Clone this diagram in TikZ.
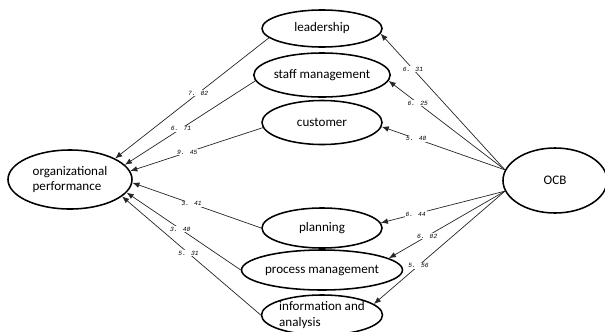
\documentclass[tikz,border=0pt]{standalone}
\usepackage{fontspec}
\setmainfont{Carlito}
\newfontfamily\weightfont{Liberation Mono}
\usetikzlibrary{shapes.geometric,arrows.meta}

\tikzset{
    factor/.style={draw, ellipse, line width=1.1pt, fill=white, inner sep=0pt,
        minimum width=3cm, minimum height=1cm, font=\fontsize{9.3}{11}\selectfont},
    path/.style={draw=black!85, line width=0.5pt, -{Latex[length=5pt,width=4pt]}},
    weight/.style={fill=white, inner sep=0.6pt, font=\weightfont\itshape\fontsize{4.5}{5}\selectfont}
}

\begin{document}
\begin{tikzpicture}[x=0.025cm, y=-0.025cm]
    % page frame
    \useasboundingbox (0,0) rectangle (605,331);

    % the two latent variables
    \node[factor, minimum width=3.1cm, minimum height=1.475cm, align=left] (perf) at (70,179.5) {organizational\\performance};
    \node[factor, minimum width=2.6cm, minimum height=1.625cm] (ocb) at (555,180.5) {OCB};

    % the six dimensions in the middle
    \node[factor, minimum height=0.925cm] (leadership) at (322,28.5) {leadership};
    \node[factor, minimum height=1.1cm] (staff) at (322,75) {staff management};
    \node[factor, minimum height=1.1cm] (customer) at (322,122.5) {customer};
    \node[factor] (planning) at (322,228) {planning};
    \node[factor] (process) at (322,270) {process management};
    \node[factor, align=left] (info) at (322,315) {information and\\analysis};

    % paths into organizational performance
    \draw[path] (leadership.190) -- node[weight, pos=0.46] {7. 02} (perf.25);
    \draw[path] (staff.185) -- node[weight, pos=0.57] {6. 71} (perf.15);
    \draw[path] (customer.185) -- node[weight, pos=0.57] {9. 45} (perf.8);
    \draw[path] (planning.west) -- node[weight, pos=0.54] {3. 41} (perf.-3);
    \draw[path] (process.west) -- node[weight, pos=0.53] {3. 40} (perf.-13);
    \draw[path] (info.west) -- node[weight, pos=0.52] {5. 31} (perf.-18);

    % paths out of OCB
    \draw[path] (ocb.168) -- node[weight, pos=0.74] {6. 31} (leadership.-5);
    \draw[path] (ocb.168) -- node[weight, pos=0.75] {6. 25} (staff.-5);
    \draw[path] (ocb.168) -- node[weight, pos=0.72] {5. 40} (customer.-4);
    \draw[path] (ocb.192) -- node[weight, pos=0.72] {6. 44} (planning.5);
    \draw[path] (ocb.192) -- node[weight, pos=0.67] {6. 02} (process.10);
    \draw[path] (ocb.192) -- node[weight, pos=0.66] {5. 56} (info.12);
\end{tikzpicture}
\end{document}
